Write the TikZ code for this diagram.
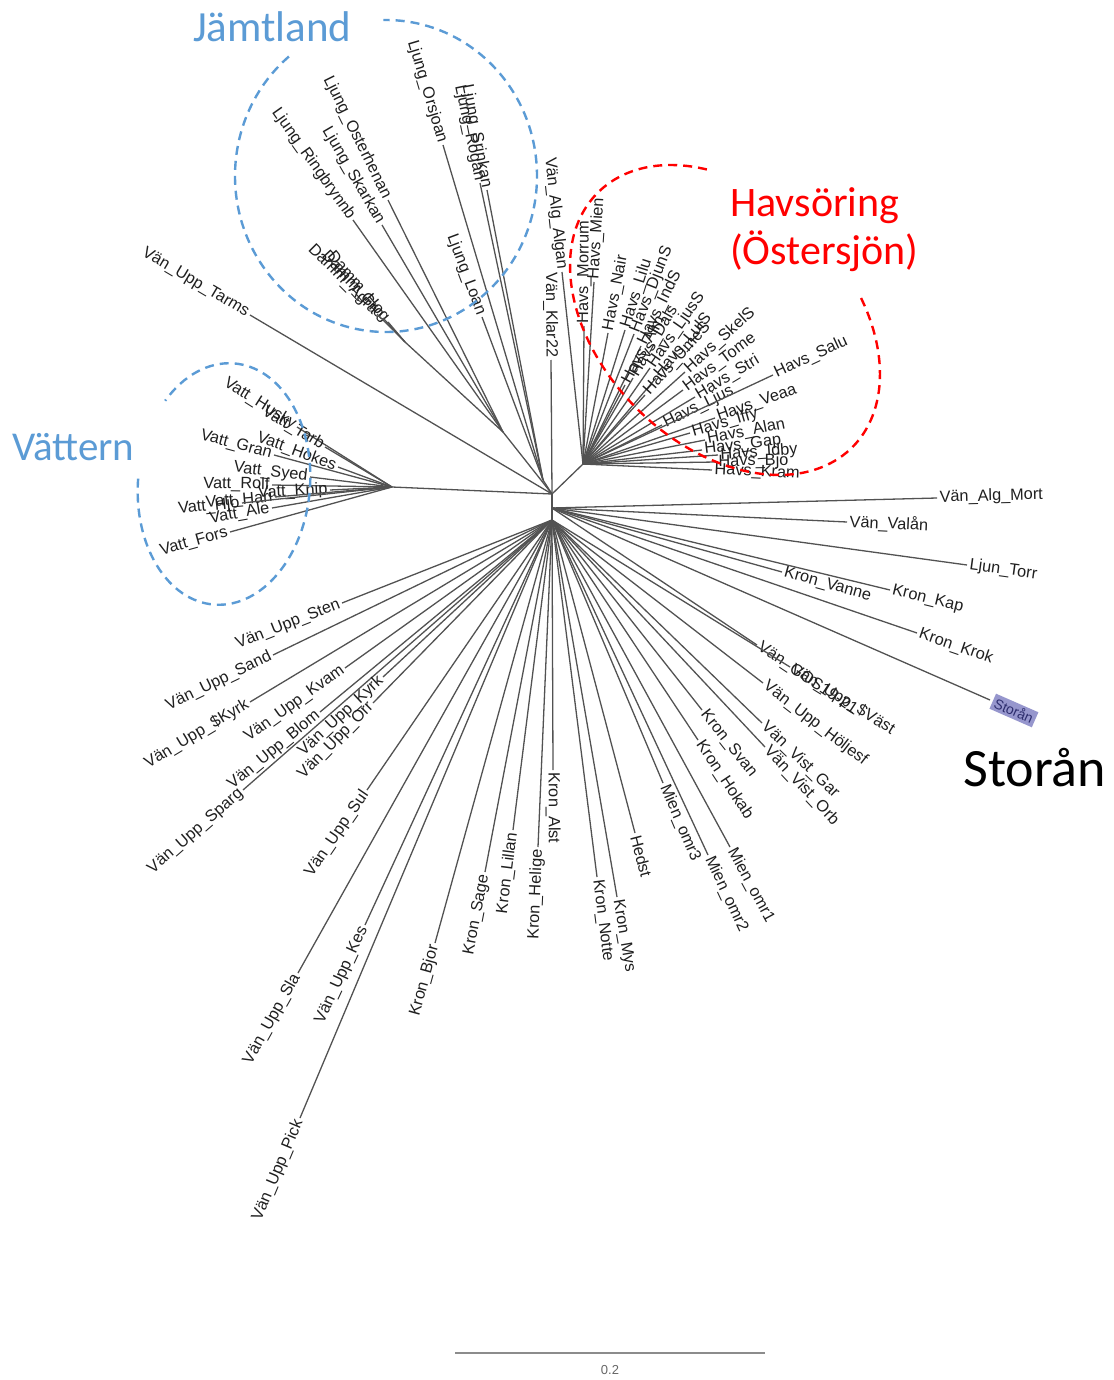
\documentclass[tikz,border=0pt]{standalone}
\usepackage{fontspec}
\setmainfont{Liberation Sans}
\newfontfamily\calib{Carlito}
\definecolor{ringblue}{RGB}{91,155,213}
\definecolor{ringred}{RGB}{255,0,0}
\definecolor{storfill}{RGB}{150,150,205}
\definecolor{stortext}{RGB}{45,45,110}

\begin{document}
\begin{tikzpicture}[x=1pt,y=-1pt,
  branch/.style={draw=black!68,line width=1.3pt},
  leaf/.style={font=\fontsize{16.3}{16.3}\selectfont,text=black!88,inner sep=2pt,sloped,pos=1},
  ring/.style={line width=2.4pt,dash pattern=on 9pt off 6pt},
  grp/.style={font=\calib\fontsize{42}{42}\selectfont,inner sep=0pt,anchor=base west},
  storbox/.style={fill=storfill,text=stortext,font=\fontsize{14}{14}\selectfont,inner sep=2.5pt,outer sep=3pt}]
\useasboundingbox (0,0) rectangle (1113,1380);
\coordinate (c1) at (552,494); \coordinate (c2) at (552,508); \coordinate (c3) at (552,520);
\coordinate (vt) at (392,487); \coordinate (j1) at (503,432); \coordinate (j2) at (543,480);
\coordinate (dd) at (405,342); \coordinate (hs) at (583,464);
\draw[branch] (c1) -- (c2) -- (c3);
\draw[branch] (c1) -- (vt); \draw[branch] (c1) -- (j1); \draw[branch] (c1) -- (j2);
\draw[branch] (j1) -- (dd); \draw[branch] (c1) -- (hs);
\foreach \pa/\x/\y/\anc/\lab [count=\i] in {
  vt/297/427/east/Vatt\_Husky, vt/325/447/east/Vatt\_Tarb, vt/338/467/east/Vatt\_Hokes,
  vt/274/455/east/Vatt\_Gran, vt/310/477/east/Vatt\_Syed, vt/272/485/east/Vatt\_Rolf,
  vt/330/490/east/Vatt\_Knip, vt/275/497/east/Vatt\_Hari, vt/242/503/east/Vatt\_Hjo,
  vt/272/508/east/Vatt\_Ale, vt/230/532/east/Vatt\_Fors,
  c1/250/315/east/Vän\_Upp\_Tarms,
  dd/388/322/east/Damm\_Hog, dd/383/318/east/Damm\_Gro, dd/377/314/east/Damm\_Agra,
  j1/353/220/east/Ljung\_Ringbrynnb, j1/382/225/east/Ljung\_Skarkan, j1/388/200/east/Ljung\_Osterhenan,
  j2/443/145/east/Ljung\_Orsjoan, j2/480/183/east/Ljung\_Rogan, j2/487/190/east/Ljung\_Srinkan,
  j2/482/317/east/Ljung\_Loan,
  c1/551/360/east/Vän\_Klar22, hs/562/272/east/Vän\_Alg\_Algan,
  hs/584/326/west/Havs\_Morrum, hs/594/282/west/Havs\_Mien, hs/608/333/west/Havs\_Nair,
  hs/625/330/west/Havs\_Lilu, hs/634/334/west/Havs\_DjunS, hs/641/346/west/Havs\_IndS,
  hs/625/385/west/Havs\_Alm, hs/633/378/west/Havs\_Dals, hs/650/368/west/Havs\_LjusS,
  hs/656/378/west/Havs\_LulS, hs/645/395/west/Havs\_UmeS, hs/685/372/west/Havs\_SkelS,
  hs/683/390/west/Havs\_Tome, hs/695/397/west/Havs\_Stri, hs/662/425/west/Havs\_Ljus,
  hs/773/375/west/Havs\_Salu, hs/715/418/west/Havs\_Veaa, hs/690/433/west/Havs\_Iffy,
  hs/705/440/west/Havs\_Alan, hs/702/450/west/Havs\_Gap, hs/718/455/west/Havs\_Idby,
  hs/716/462/west/Havs\_Bjo, hs/712/470/west/Havs\_Kram,
  c2/937/498/west/Vän\_Alg\_Mort, c2/847/522/west/Vän\_Valån, c2/967/565/west/Ljun\_Torr,
  c2/782/572/west/Kron\_Vanne, c2/890/590/west/Kron\_Kap, c2/917/633/west/Kron\_Krok,
  c2/757/645/west/Vän\_GOS19-21,
  c3/790/667/west/Vän\_Upp\_\$Väst, c3/763/683/west/Vän\_Upp\_Höljesf,
  c3/762/723/west/Vän\_Vist\_Gar, c3/765/747/west/Vän\_Vist\_Orb,
  c3/702/710/west/Kron\_Svan, c3/698/740/west/Kron\_Hokab,
  c3/730/847/west/Mien\_omr1, c3/708/855/west/Mien\_omr2, c3/663/783/west/Mien\_omr3,
  c3/635/833/west/Hedst, c3/617/897/west/Kron\_Mys, c3/597/877/west/Kron\_Notte,
  c3/553/770/west/Kron\_Alst, c3/538/847/east/Kron\_Helige, c3/513/830/east/Kron\_Lillan,
  c3/485/872/east/Kron\_Sage, c3/435/943/east/Kron\_Bjor,
  c3/300/1118/east/Vän\_Upp\_Pick, c3/365/925/east/Vän\_Upp\_Kes, c3/298/973/east/Vän\_Upp\_Sla,
  c3/367/790/east/Vän\_Upp\_Sul, c3/243/790/east/Vän\_Upp\_Sparg, c3/373/703/east/Vän\_Upp\_Orr,
  c3/383/677/east/Vän\_Upp\_Kyrk, c3/320/712/east/Vän\_Upp\_Blom, c3/345/668/east/Vän\_Upp\_Kvam,
  c3/250/702/east/Vän\_Upp\_\$Kyrk, c3/273/655/east/Vän\_Upp\_Sand, c3/342/603/east/Vän\_Upp\_Sten}{
  \coordinate (t\i) at (\x,\y);
  \draw[branch] (\pa) -- (t\i) node[leaf,anchor=\anc] {\lab};
}
\coordinate (st) at (990,700);
\draw[branch] (c2) -- (st) node[leaf,storbox,anchor=west] (storleaf) {Storån};
\begin{scope}[shift={(386,176)}]
  \draw[ring,ringblue] (-130:151 and 156) arc[start angle=-130,end angle=-451,x radius=151,y radius=156];
\end{scope}
\begin{scope}[shift={(224,484)},rotate=-5]
  \draw[ring,ringblue] (-181:86 and 121) arc[start angle=-181,end angle=-500,x radius=86,y radius=121];
\end{scope}
\begin{scope}[shift={(725,320)},rotate=-45]
  \draw[ring,ringred] (228.5:180 and 125) arc[start angle=228.5,end angle=-65,x radius=180,y radius=125];
\end{scope}
\node[grp,text=ringblue,font=\calib\fontsize{43}{43}\selectfont] (jamt) at (193,42) {Jämtland};
\node[grp,text=ringblue,font=\calib\fontsize{41}{41}\selectfont] (vatt) at (12,460) {Vättern};
\node[grp,text=ringred] (havs) at (730,217) {Havsöring};
\node[grp,text=ringred] (oster) at (730,265) {(Östersjön)};
\node[grp,font=\calib\fontsize{54}{54}\selectfont] (stor) at (963,786) {Storån};
\coordinate (sb1) at (455,1353); \coordinate (sb2) at (765,1353);
\draw[black!45,line width=1.6pt] (sb1) -- (sb2) node[midway,below=8pt,font=\fontsize{13}{13}\selectfont,text=black!60] (sbl) {0.2};
\end{tikzpicture}
\end{document}
